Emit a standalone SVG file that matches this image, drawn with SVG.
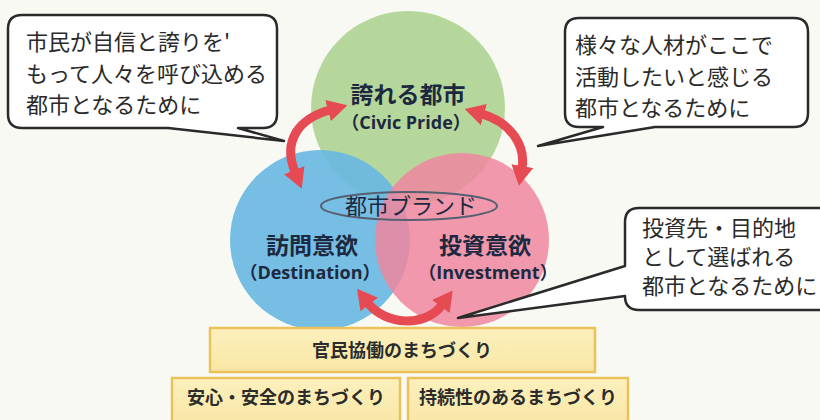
<svg xmlns="http://www.w3.org/2000/svg" width="820" height="420" viewBox="0 0 820 420">
<defs>
<style>
.jp{font-family:"Noto Sans CJK JP","Noto Sans",sans-serif;}
.call{fill:#fff;stroke:#2a2a2a;stroke-width:2.5;stroke-linejoin:round;}
.ctext{font-size:22px;fill:#2a2a2a;font-weight:400;}
.lbl{font-weight:700;fill:#1c2940;text-anchor:middle;}
.en{font-family:"Open Sans","Liberation Sans","Noto Sans CJK JP",sans-serif;font-weight:700;fill:#1c2940;text-anchor:middle;}
.arrow{fill:none;stroke:#e64a52;stroke-width:9;}
.base{fill:url(#yel);stroke:#ebc15a;stroke-width:2.5;}
.btext{font-size:18px;font-weight:700;fill:#2b2b2b;text-anchor:middle;}
</style>
<linearGradient id="yel" x1="0" y1="0" x2="0" y2="1">
<stop offset="0" stop-color="#fcf0bd"/>
<stop offset="1" stop-color="#f8e6a4"/>
</linearGradient>
<marker id="ah" viewBox="0 0 20 22" refX="2" refY="11" markerWidth="20" markerHeight="22" markerUnits="userSpaceOnUse" orient="auto-start-reverse">
<path d="M0 0 L20 11 L0 22 Z" fill="#e64a52"/>
</marker>
</defs>
<rect width="820" height="420" fill="#f9f9f4"/>

<g id="circle-pride">
<circle cx="408" cy="108" r="97" fill="#b6d79b"/>
</g>
<g id="circle-destination">
<circle cx="320" cy="240" r="90" fill="#6ab8e2" opacity="0.92"/>
</g>
<g id="circle-investment">
<circle cx="462" cy="240" r="87" fill="#f087a0" opacity="0.85"/>
</g>

<g id="label-pride">
<text class="jp lbl" x="408" y="103" font-size="23">誇れる都市</text>
<text class="en" x="406" y="129" font-size="18">（Civic Pride）</text>
</g>
<g id="brand">
<ellipse cx="409" cy="206" rx="88" ry="14" fill="none" stroke="#566072" stroke-width="2"/>
<text class="jp" x="411" y="214" font-size="22" fill="#1c2940" text-anchor="middle">都市ブランド</text>
</g>
<g id="label-destination">
<text class="jp lbl" x="312" y="254" font-size="23">訪問意欲</text>
<text class="en" x="310" y="279" font-size="18">（Destination）</text>
</g>
<g id="label-investment">
<text class="jp lbl" x="485" y="254" font-size="23">投資意欲</text>
<text class="en" x="488" y="279" font-size="18">（Investment）</text>
</g>

<g id="connectors">
<path class="arrow" d="M295 172 C282 140 300 118 330 110" marker-start="url(#ah)" marker-end="url(#ah)"/>
<path class="arrow" d="M482 114 C510 122 526 145 522 168" marker-start="url(#ah)" marker-end="url(#ah)"/>
<path class="arrow" d="M368 303 C385 325 425 328 442 305" marker-start="url(#ah)" marker-end="url(#ah)"/>
</g>

<g id="callout-left">
<path class="call" d="M22 15 H263 Q277 15 277 29 V114 Q277 128 263 128 H238 L284 141 L168 128 H22 Q8 128 8 114 V29 Q8 15 22 15 Z"/>
<text class="jp ctext" x="26" y="50">市民が自信と誇りを'<tspan x="26" dy="32">もって人々を呼び込める</tspan><tspan x="26" dy="31">都市となるために</tspan></text>
</g>

<g id="callout-right-top">
<path class="call" d="M579 18 H794 Q808 18 808 32 V113 Q808 127 794 127 H655 L538 146 L603 127 H579 Q565 127 565 113 V32 Q565 18 579 18 Z"/>
<text class="jp ctext" x="575" y="53">様々な人材がここで<tspan x="575" dy="32">活動したいと感じる</tspan><tspan x="575" dy="31">都市となるために</tspan></text>
</g>

<g id="callout-right-bottom">
<path class="call" d="M639 208 H840 V310 H639 Q625 310 625 296 L458 318 L625 266 V222 Q625 208 639 208 Z"/>
<text class="jp ctext" x="642" y="236" font-size="20">投資先・目的地<tspan x="642" dy="29">として選ばれる</tspan><tspan x="642" dy="29">都市となるために</tspan></text>
</g>

<g id="base-collab">
<rect class="base" x="210" y="328" width="385" height="44"/>
<text class="jp btext" x="402" y="357">官民協働のまちづくり</text>
</g>
<g id="base-safety">
<rect class="base" x="172" y="378" width="228" height="48"/>
<text class="jp btext" x="286" y="404">安心・安全のまちづくり</text>
</g>
<g id="base-sustain">
<rect class="base" x="408" y="378" width="220" height="48"/>
<text class="jp btext" x="518" y="404">持続性のあるまちづくり</text>
</g>
</svg>
